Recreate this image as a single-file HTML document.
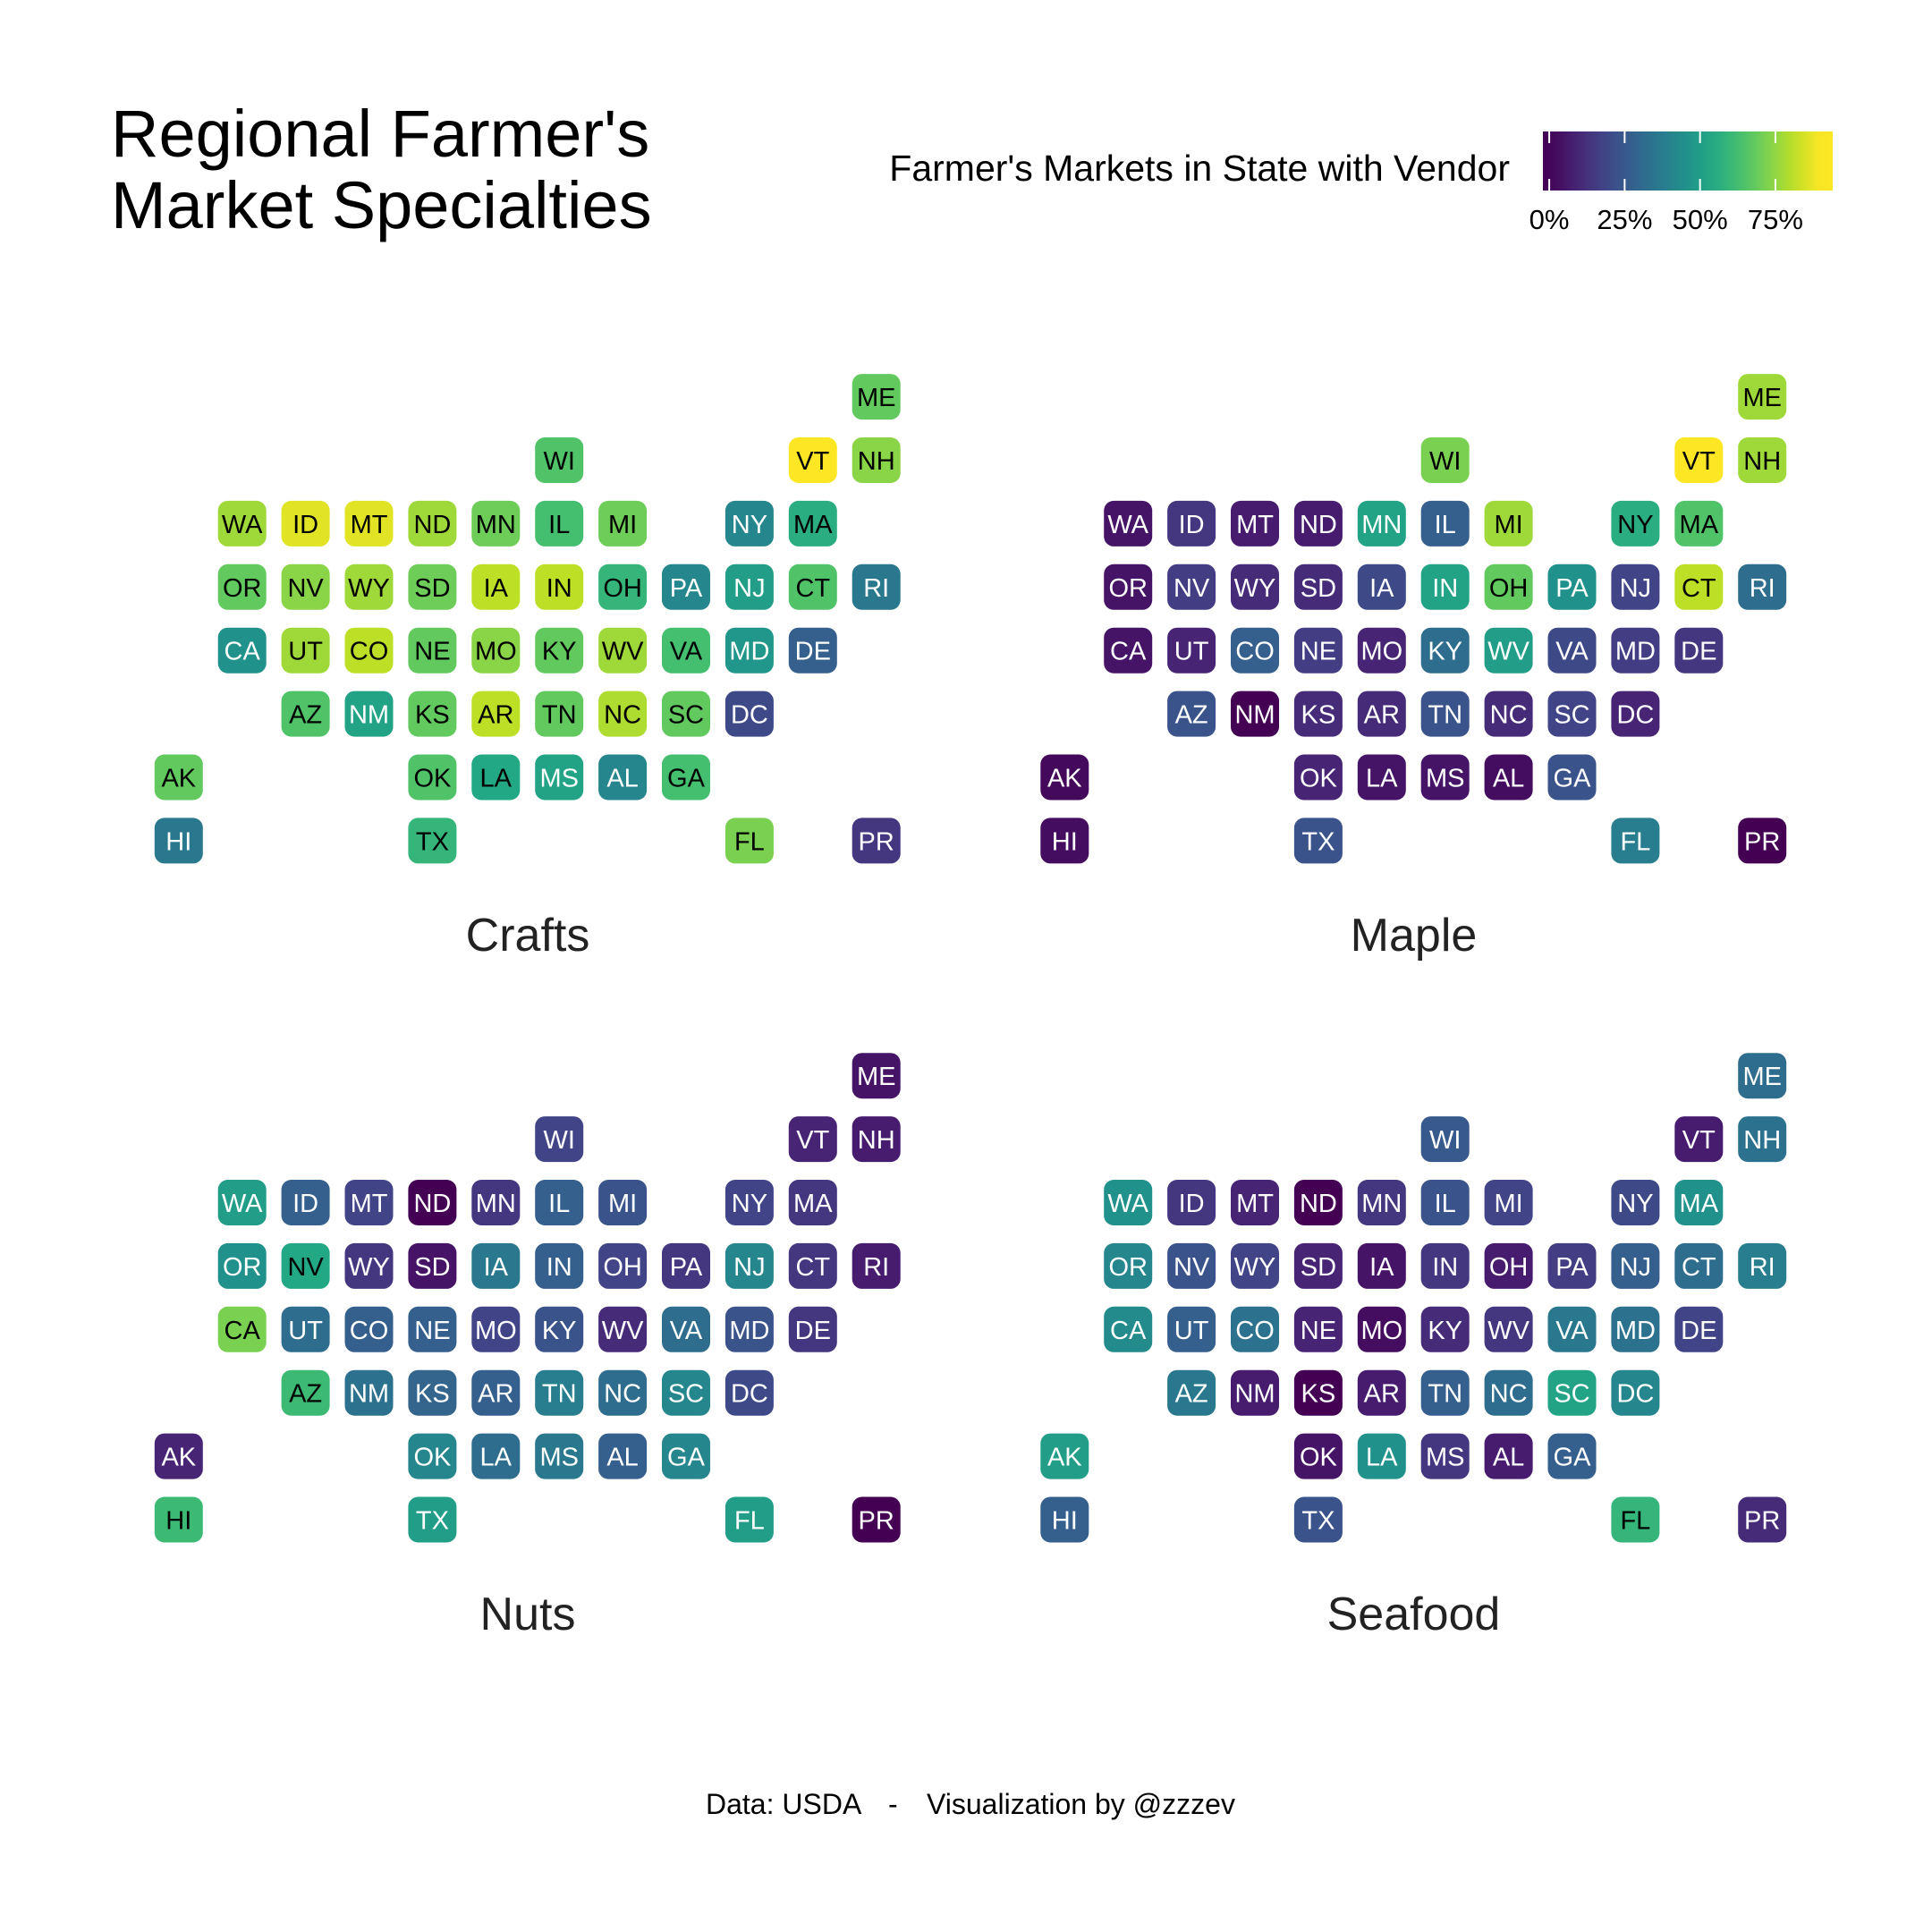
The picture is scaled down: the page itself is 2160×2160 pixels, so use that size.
<!DOCTYPE html>
<html><head><meta charset="utf-8"><style>
html,body{margin:0;padding:0;background:#fff;}
svg{display:block;font-family:"Liberation Sans","DejaVu Sans",sans-serif;}
</style></head><body>
<svg id="chart" width="2160" height="2160" viewBox="0 0 2160 2160" xmlns="http://www.w3.org/2000/svg">
<rect width="2160" height="2160" fill="#fff"/>
<text x="124" y="175" font-size="74" fill="#000">Regional Farmer's</text>
<text x="124" y="255" font-size="74" fill="#000">Market Specialties</text>
<text x="1688" y="202" font-size="41" text-anchor="end" fill="#000">Farmer's Markets in State with Vendor</text>
<defs><linearGradient id="vir" x1="0" x2="1" y1="0" y2="0"></linearGradient></defs>
<rect x="1725" y="147" width="324" height="66" fill="url(#vir)"/>
<g id="legendticks"></g>
<g id="panels"></g>
<text x="789" y="2028" font-size="32" fill="#000">Data: USDA</text>
<text x="993" y="2028" font-size="32" fill="#000">-</text>
<text x="1036" y="2028" font-size="32" fill="#000">Visualization by @zzzev</text>
</svg>
<script>
const states=["ME","WI","VT","NH","WA","ID","MT","ND","MN","IL","MI","NY","MA","OR","NV","WY","SD","IA","IN","OH","PA","NJ","CT","RI","CA","UT","CO","NE","MO","KY","WV","VA","MD","DE","AZ","NM","KS","AR","TN","NC","SC","DC","AK","OK","LA","MS","AL","GA","HI","TX","FL","PR"];
const stateCol=[11,6,10,11,1,2,3,4,5,6,7,9,10,1,2,3,4,5,6,7,8,9,10,11,1,2,3,4,5,6,7,8,9,10,2,3,4,5,6,7,8,9,0,4,5,6,7,8,0,4,9,11];
const stateRow=[0,1,1,1,2,2,2,2,2,2,2,2,2,3,3,3,3,3,3,3,3,3,3,3,4,4,4,4,4,4,4,4,4,4,5,5,5,5,5,5,5,5,6,6,6,6,6,6,7,7,7,7];
const categories=["Crafts","Maple","Nuts","Seafood"];
// percent of farmer's markets in state with vendor
const crafts=[68,65,90,74,77,86,86,77,70,63,70,41,56,68,74,77,70,81,81,59,41,50,65,36,45,77,81,68,74,68,77,63,47,27,65,52,68,81,68,79,68,20,68,65,54,52,41,63,36,59,72,14];
const maple=[77,72,90,77,5,14,7,7,52,27,77,56,65,5,16,11,11,20,52,68,45,18,81,32,5,9,27,16,9,32,50,20,16,14,23,0,11,11,23,11,18,9,2,9,5,5,3,23,3,23,38,0];
const nuts=[5,18,9,7,50,27,18,0,14,27,23,18,14,45,54,14,5,36,27,18,14,41,14,7,72,32,27,27,18,23,11,32,23,14,61,34,29,27,38,32,41,20,9,41,32,36,27,41,61,50,50,0];
const seafood=[32,25,7,34,45,14,9,0,14,23,18,20,45,41,23,18,9,5,14,7,16,27,32,38,43,27,34,9,3,11,14,36,34,18,36,7,0,7,27,32,52,41,50,5,45,14,7,27,27,23,59,11];
const seriesValues=[crafts,maple,nuts,seafood];
const legendTicks=[0,25,50,75];
const legendLabels=["0%","25%","50%","75%"];

const VIR=["#440154","#482475","#414487","#355f8d","#2a788e","#21918c","#22a884","#44bf70","#7ad151","#bddf26","#fde725"];
function hex(h){return [1,3,5].map(i=>parseInt(h.substr(i,2),16));}
function viridis(t){t=Math.max(0,Math.min(1,t));const p=t*10,i=Math.min(9,Math.floor(p)),f=p-i;const a=hex(VIR[i]),b=hex(VIR[i+1]);return "rgb("+a.map((v,k)=>Math.round(v+(b[k]-v)*f)).join(",")+")";}
const VMAX=90;
function colorT(v){return v/VMAX;}
const NS="http://www.w3.org/2000/svg";
function mk(tag,attrs,parent){const e=document.createElementNS(NS,tag);for(const k in attrs)e.setAttribute(k,attrs[k]);parent.appendChild(e);return e;}

const lgMin=-2.1,lgMax=94;
const grad=document.getElementById("vir");
for(let i=0;i<=20;i++){const pv=lgMin+(lgMax-lgMin)*i/20;mk("stop",{offset:(i*5)+"%","stop-color":viridis(colorT(pv))},grad);}
const lx=p=>1725+(p-lgMin)/(lgMax-lgMin)*324;
const lt=document.getElementById("legendticks");
legendTicks.forEach((p,i)=>{
  const x=lx(p);
  const t1=mk("line",{x1:x,x2:x,y1:147,y2:160,stroke:"#fff","stroke-width":2},lt);
  
  
  const t2=mk("line",{x1:x,x2:x,y1:200,y2:213,stroke:"#fff","stroke-width":2},lt);
  
  
  const tx=mk("text",{x:x,y:256,"font-size":31,"text-anchor":"middle",fill:"#000"},lt);
  
  
  tx.textContent=legendLabels[i];
});

const X0=199.8,Y0=443.6,SP=70.9,PX=990.5,PY=759.1,TW=54,TH=51;
const xScale=(c,pc)=>X0+pc*PX+c*SP;
const yScale=(r,pr)=>Y0+pr*PY+r*SP;
const panels=document.getElementById("panels");
categories.forEach((cat,pi)=>{
  const pc=pi%2,pr=Math.floor(pi/2);
  const g=mk("g",{},panels);
  
  
  const vals=seriesValues[pi];
  states.forEach((s,i)=>{
    const cx=xScale(stateCol[i],pc),cy=yScale(stateRow[i],pr);
    const t=colorT(vals[i]);
    const r=mk("rect",{x:cx-TW/2,y:cy-TH/2,width:TW,height:TH,rx:11,ry:11,fill:viridis(t)},g);
    
    
    const tx=mk("text",{x:cx,y:cy+10.5,"font-size":29,"text-anchor":"middle",fill:t>=0.6?"#000":"#fff"},g);
    
    
    tx.textContent=s;
  });
  const tt=mk("text",{x:590+pc*PX,y:1063+pr*PY,"font-size":52,"text-anchor":"middle",fill:"#222"},g);
  
  
  tt.textContent=cat;
});
</script>
</body></html>
